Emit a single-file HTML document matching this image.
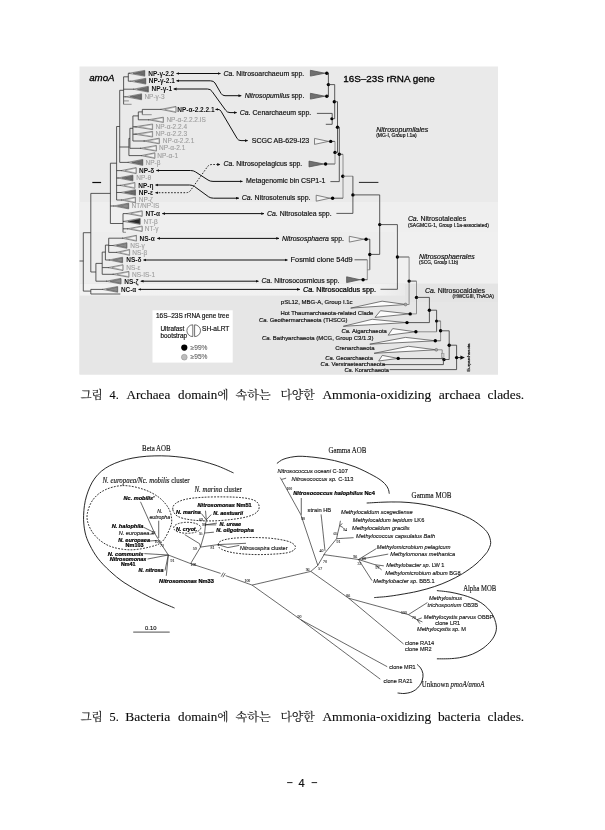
<!DOCTYPE html>
<html><head><meta charset="utf-8"><title>page 4</title>
<style>
html,body{margin:0;padding:0;background:#fff;}
body{width:605px;height:830px;overflow:hidden;font-family:"Liberation Sans",sans-serif;}
svg{display:block;position:absolute;left:0;top:0;will-change:transform;}
svg text{font-family:"Liberation Sans",sans-serif;fill:#111;stroke:#111;stroke-width:.18;}
.l{stroke:#2e2e2e;stroke-width:.78;fill:none;}
.lg{stroke:#777;stroke-width:.8;fill:none;}
.a{stroke:#111;stroke-width:1;fill:none;}
.ad{stroke:#111;stroke-width:.9;fill:none;stroke-dasharray:1.6 1.5;}
.t{stroke:#444;stroke-width:.6;}
.F2 text{stroke-width:.13;}
.b{font-weight:bold;stroke-width:0 !important;}
.i{font-style:italic;}
.bi{font-weight:bold;font-style:italic;stroke-width:.22 !important;fill:#000 !important;stroke:#000 !important;}
.g{fill:#9c9c9c !important;stroke:#9c9c9c !important;stroke-width:.1 !important;}
.s{font-family:"Liberation Serif",serif !important;}
.cp{font-family:"Liberation Serif",serif !important;stroke-width:.12 !important;fill:#0a0a0a !important;}
.ck{font-family:"Liberation Serif","Noto Serif CJK SC","Noto Sans CJK KR",serif !important;stroke-width:.12 !important;fill:#111 !important;}
.b2{font-weight:bold;stroke-width:.22 !important;fill:#000 !important;stroke:#000 !important;}
.si{font-family:"Liberation Serif",serif !important;font-style:italic;}
.f2{stroke:#222;stroke-width:.68;fill:none;}
.f2a{stroke:#111;stroke-width:.9;fill:none;}
.f2d{stroke:#111;stroke-width:.85;fill:none;stroke-dasharray:1.8 1.3;}
</style></head><body>
<svg width="605" height="830" viewBox="0 0 605 830">
<defs><filter id="soft" x="0" y="0" width="605" height="830" filterUnits="userSpaceOnUse"><feGaussianBlur stdDeviation="0.33"/></filter></defs>
<g filter="url(#soft)">
<defs><linearGradient id="gd" x1="0" x2="1"><stop offset="0" stop-color="#f4f4f4"/><stop offset=".3" stop-color="#8a8a8a"/><stop offset="1" stop-color="#4a4a4a"/></linearGradient><linearGradient id="gl" x1="0" x2="1"><stop offset="0" stop-color="#fafafa"/><stop offset=".45" stop-color="#f0f0f0"/><stop offset="1" stop-color="#c4c4c4"/></linearGradient><linearGradient id="gm" x1="0" x2="1"><stop offset="0" stop-color="#f6f6f6"/><stop offset=".35" stop-color="#aaa"/><stop offset="1" stop-color="#5c5c5c"/></linearGradient><linearGradient id="gk" x1="0" x2="1"><stop offset="0" stop-color="#ddd"/><stop offset=".35" stop-color="#444"/><stop offset="1" stop-color="#1a1a1a"/></linearGradient><marker id="ah" viewBox="0 0 6 6" refX="5.2" refY="3" markerWidth="3.2" markerHeight="3.2" orient="auto-start-reverse" markerUnits="userSpaceOnUse"><path d="M0,0.4 L6,3 L0,5.6 Z" fill="#111"/></marker><linearGradient id="gband" x1="0" x2="1"><stop offset="0" stop-color="#f2f2f2"/><stop offset=".88" stop-color="#f1f1f1"/><stop offset="1" stop-color="#e5e5e5"/></linearGradient></defs>
<rect x="79.5" y="66.5" width="418.5" height="308" fill="#eaeaea"/>
<rect x="79.5" y="202" width="418.5" height="30" fill="#efefef"/>
<rect x="79.5" y="232" width="418.5" height="52" fill="#ededed"/>
<rect x="395" y="232" width="103" height="52" fill="#f0f0f0"/>
<rect x="79.5" y="283.5" width="418.5" height="91" fill="#e6e6e6"/>
<rect x="79.5" y="283.8" width="340" height="11.8" fill="url(#gband)"/>
<rect x="405" y="284" width="93" height="18" fill="#e4e4e4"/>
<text x="89.2" y="80.5" font-size="9.8" class="i" textLength="25.4" lengthAdjust="spacingAndGlyphs" style="fill:#000;stroke:#000;stroke-width:.3">amoA</text>
<line class="l" x1="79.5" y1="261.0" x2="83.3" y2="261.0"/>
<line class="l" x1="83.3" y1="232.7" x2="83.3" y2="291.1"/>
<line class="l" x1="83.3" y1="232.7" x2="90.8" y2="232.7"/>
<line class="l" x1="90.8" y1="193.4" x2="90.8" y2="272.0"/>
<line class="l" x1="90.8" y1="193.4" x2="110.4" y2="193.4"/>
<line class="l" x1="110.4" y1="163.2" x2="110.4" y2="223.5"/>
<line class="l" x1="110.4" y1="163.2" x2="116.6" y2="163.2"/>
<line class="l" x1="116.6" y1="126.5" x2="116.6" y2="200.0"/>
<line class="l" x1="116.6" y1="126.5" x2="119.7" y2="126.5"/>
<line class="l" x1="119.7" y1="90.3" x2="119.7" y2="162.4"/>
<line class="l" x1="119.7" y1="90.3" x2="123.6" y2="90.3"/>
<line class="l" x1="123.6" y1="76.8" x2="123.6" y2="104.3"/>
<line class="l" x1="123.6" y1="76.8" x2="128.3" y2="76.8"/>
<line class="l" x1="128.3" y1="73.3" x2="128.3" y2="81.2"/>
<line class="l" x1="128.3" y1="73.3" x2="130.0" y2="73.3"/>
<path d="M128.6,73.3 L144.8,70.4 L144.8,76.2 Z" fill="#e4e4e4" stroke="#444" stroke-width=".55" stroke-linejoin="miter"/>
<path d="M133.0,73.3 L144.5,71.0 L144.5,75.6 Z" fill="#6c6c6c" stroke="#3a3a3a" stroke-width=".45" stroke-linejoin="miter"/>
<line class="l" x1="128.3" y1="81.2" x2="131.0" y2="81.2"/>
<path d="M130.6,81.2 L145.8,78.3 L145.8,84.1 Z" fill="#e4e4e4" stroke="#444" stroke-width=".55" stroke-linejoin="miter"/>
<path d="M134.7,81.2 L145.5,78.9 L145.5,83.5 Z" fill="#6c6c6c" stroke="#3a3a3a" stroke-width=".45" stroke-linejoin="miter"/>
<line class="l" x1="123.6" y1="89.2" x2="134.0" y2="89.2"/>
<path d="M133.2,89.2 L148.4,86.3 L148.4,92.1 Z" fill="#e4e4e4" stroke="#444" stroke-width=".55" stroke-linejoin="miter"/>
<path d="M137.3,89.2 L148.1,86.9 L148.1,91.5 Z" fill="#6c6c6c" stroke="#3a3a3a" stroke-width=".45" stroke-linejoin="miter"/>
<line class="l" x1="123.6" y1="96.8" x2="126.0" y2="96.8"/>
<path d="M125.6,96.8 L141.6,93.8 L141.6,99.8 Z" fill="#e4e4e4" stroke="#444" stroke-width=".55" stroke-linejoin="miter"/>
<path d="M129.9,96.8 L141.3,94.4 L141.3,99.2 Z" fill="#6c6c6c" stroke="#3a3a3a" stroke-width=".45" stroke-linejoin="miter"/>
<line class="lg" x1="123.6" y1="100.9" x2="128.9" y2="100.9"/>
<line class="lg" x1="123.6" y1="104.3" x2="131.6" y2="104.3"/>
<line class="l" x1="119.7" y1="147.0" x2="128.9" y2="147.0"/>
<line class="l" x1="128.9" y1="138.4" x2="128.9" y2="155.6"/>
<line class="l" x1="128.9" y1="138.4" x2="129.9" y2="138.4"/>
<line class="l" x1="129.9" y1="128.3" x2="129.9" y2="148.3"/>
<line class="l" x1="129.9" y1="128.3" x2="132.9" y2="128.3"/>
<line class="l" x1="132.9" y1="115.9" x2="132.9" y2="141.0"/>
<line class="l" x1="132.9" y1="115.9" x2="138.3" y2="115.9"/>
<line class="l" x1="138.3" y1="111.9" x2="138.3" y2="119.8"/>
<line class="l" x1="138.3" y1="111.9" x2="142.3" y2="111.9"/>
<line class="l" x1="142.3" y1="109.4" x2="142.3" y2="114.7"/>
<line class="l" x1="142.3" y1="109.4" x2="161.5" y2="109.4"/>
<path d="M160.5,109.4 L176.0,106.4 L176.0,112.4 Z" fill="#e4e4e4" stroke="#444" stroke-width=".55" stroke-linejoin="miter"/>
<path d="M164.7,109.4 L175.7,107.0 L175.7,111.8 Z" fill="#f3f3f3" stroke="#666" stroke-width=".45" stroke-linejoin="miter"/>
<line class="lg" x1="142.3" y1="114.7" x2="151.7" y2="114.7"/>
<line class="l" x1="138.3" y1="119.8" x2="149.0" y2="119.8"/>
<path d="M148.2,119.8 L163.4,117.2 L163.4,122.4 Z" fill="#e4e4e4" stroke="#444" stroke-width=".55" stroke-linejoin="miter"/>
<path d="M152.3,119.8 L163.1,117.7 L163.1,121.9 Z" fill="#f3f3f3" stroke="#666" stroke-width=".45" stroke-linejoin="miter"/>
<line class="l" x1="132.9" y1="126.8" x2="137.0" y2="126.8"/>
<path d="M134.5,126.8 L152.6,124.0 L152.6,129.6 Z" fill="#e4e4e4" stroke="#444" stroke-width=".55" stroke-linejoin="miter"/>
<path d="M139.4,126.8 L152.3,124.6 L152.3,129.0 Z" fill="#f3f3f3" stroke="#666" stroke-width=".45" stroke-linejoin="miter"/>
<line class="l" x1="132.9" y1="134.2" x2="137.0" y2="134.2"/>
<path d="M134.5,134.2 L152.6,131.4 L152.6,137.0 Z" fill="#e4e4e4" stroke="#444" stroke-width=".55" stroke-linejoin="miter"/>
<path d="M139.4,134.2 L152.3,132.0 L152.3,136.4 Z" fill="#f3f3f3" stroke="#666" stroke-width=".45" stroke-linejoin="miter"/>
<line class="l" x1="132.9" y1="141.0" x2="145.0" y2="141.0"/>
<path d="M143.5,141.0 L159.3,138.2 L159.3,143.8 Z" fill="#e4e4e4" stroke="#444" stroke-width=".55" stroke-linejoin="miter"/>
<path d="M147.8,141.0 L159.0,138.8 L159.0,143.2 Z" fill="#f3f3f3" stroke="#666" stroke-width=".45" stroke-linejoin="miter"/>
<line class="l" x1="129.9" y1="148.3" x2="141.0" y2="148.3"/>
<path d="M140.0,148.3 L156.4,145.5 L156.4,151.1 Z" fill="#e4e4e4" stroke="#444" stroke-width=".55" stroke-linejoin="miter"/>
<path d="M144.4,148.3 L156.1,146.1 L156.1,150.5 Z" fill="#f3f3f3" stroke="#666" stroke-width=".45" stroke-linejoin="miter"/>
<line class="l" x1="128.9" y1="155.6" x2="142.0" y2="155.6"/>
<path d="M141.0,155.6 L154.9,152.8 L154.9,158.4 Z" fill="#e4e4e4" stroke="#444" stroke-width=".55" stroke-linejoin="miter"/>
<path d="M144.8,155.6 L154.6,153.4 L154.6,157.8 Z" fill="#f3f3f3" stroke="#666" stroke-width=".45" stroke-linejoin="miter"/>
<line class="l" x1="119.7" y1="162.4" x2="129.0" y2="162.4"/>
<path d="M127.6,162.4 L142.8,159.4 L142.8,165.4 Z" fill="#e4e4e4" stroke="#444" stroke-width=".55" stroke-linejoin="miter"/>
<path d="M131.7,162.4 L142.5,160.0 L142.5,164.8 Z" fill="#6c6c6c" stroke="#3a3a3a" stroke-width=".45" stroke-linejoin="miter"/>
<line class="l" x1="116.6" y1="170.6" x2="122.0" y2="170.6"/>
<path d="M121.0,170.6 L136.2,167.6 L136.2,173.6 Z" fill="#e4e4e4" stroke="#444" stroke-width=".55" stroke-linejoin="miter"/>
<path d="M125.1,170.6 L135.9,168.2 L135.9,173.0 Z" fill="#f3f3f3" stroke="#666" stroke-width=".45" stroke-linejoin="miter"/>
<line class="l" x1="116.6" y1="178.0" x2="118.5" y2="178.0"/>
<path d="M117.6,178.0 L132.9,175.1 L132.9,180.9 Z" fill="#e4e4e4" stroke="#444" stroke-width=".55" stroke-linejoin="miter"/>
<path d="M121.7,178.0 L132.6,175.7 L132.6,180.3 Z" fill="#6c6c6c" stroke="#3a3a3a" stroke-width=".45" stroke-linejoin="miter"/>
<line class="l" x1="116.6" y1="185.4" x2="121.0" y2="185.4"/>
<path d="M120.0,185.4 L134.9,182.5 L134.9,188.3 Z" fill="#e4e4e4" stroke="#444" stroke-width=".55" stroke-linejoin="miter"/>
<path d="M124.0,185.4 L134.6,183.1 L134.6,187.7 Z" fill="#f3f3f3" stroke="#666" stroke-width=".45" stroke-linejoin="miter"/>
<line class="l" x1="116.6" y1="192.5" x2="121.5" y2="192.5"/>
<path d="M120.6,192.5 L135.5,189.7 L135.5,195.3 Z" fill="#e4e4e4" stroke="#444" stroke-width=".55" stroke-linejoin="miter"/>
<path d="M124.6,192.5 L135.2,190.3 L135.2,194.7 Z" fill="#6c6c6c" stroke="#3a3a3a" stroke-width=".45" stroke-linejoin="miter"/>
<line class="l" x1="116.6" y1="200.0" x2="122.0" y2="200.0"/>
<path d="M121.2,200.0 L135.5,197.2 L135.5,202.8 Z" fill="#e4e4e4" stroke="#444" stroke-width=".55" stroke-linejoin="miter"/>
<path d="M125.1,200.0 L135.2,197.8 L135.2,202.2 Z" fill="#f3f3f3" stroke="#666" stroke-width=".45" stroke-linejoin="miter"/>
<line class="l" x1="110.4" y1="206.0" x2="114.0" y2="206.0"/>
<path d="M113.4,206.0 L128.7,203.1 L128.7,208.9 Z" fill="#e4e4e4" stroke="#444" stroke-width=".55" stroke-linejoin="miter"/>
<path d="M117.5,206.0 L128.4,203.7 L128.4,208.3 Z" fill="#8c8c8c" stroke="#3a3a3a" stroke-width=".45" stroke-linejoin="miter"/>
<line class="l" x1="110.4" y1="223.5" x2="123.0" y2="223.5"/>
<line class="l" x1="123.0" y1="213.6" x2="123.0" y2="232.3"/>
<line class="l" x1="123.0" y1="213.6" x2="127.5" y2="213.6"/>
<path d="M126.6,213.6 L142.2,210.8 L142.2,216.4 Z" fill="#e4e4e4" stroke="#444" stroke-width=".55" stroke-linejoin="miter"/>
<path d="M130.8,213.6 L141.9,211.4 L141.9,215.8 Z" fill="#f3f3f3" stroke="#666" stroke-width=".45" stroke-linejoin="miter"/>
<line class="l" x1="123.0" y1="221.4" x2="124.0" y2="221.4"/>
<path d="M123.4,221.4 L140.2,218.4 L140.2,224.4 Z" fill="#e4e4e4" stroke="#444" stroke-width=".55" stroke-linejoin="miter"/>
<path d="M127.9,221.4 L139.9,219.0 L139.9,223.8 Z" fill="#2a2a2a" stroke="#3a3a3a" stroke-width=".45" stroke-linejoin="miter"/>
<line class="l" x1="123.0" y1="228.8" x2="128.0" y2="228.8"/>
<path d="M127.2,228.8 L142.2,226.1 L142.2,231.5 Z" fill="#e4e4e4" stroke="#444" stroke-width=".55" stroke-linejoin="miter"/>
<path d="M131.2,228.8 L141.9,226.6 L141.9,231.0 Z" fill="#f3f3f3" stroke="#666" stroke-width=".45" stroke-linejoin="miter"/>
<line class="lg" x1="123.0" y1="232.3" x2="126.0" y2="232.3"/>
<line class="l" x1="90.8" y1="272.0" x2="95.9" y2="272.0"/>
<line class="l" x1="95.9" y1="263.4" x2="95.9" y2="281.2"/>
<line class="l" x1="95.9" y1="263.4" x2="102.2" y2="263.4"/>
<line class="l" x1="102.2" y1="252.1" x2="102.2" y2="274.3"/>
<line class="l" x1="102.2" y1="252.1" x2="105.4" y2="252.1"/>
<line class="l" x1="105.4" y1="245.1" x2="105.4" y2="260.0"/>
<line class="l" x1="105.4" y1="245.1" x2="108.7" y2="245.1"/>
<line class="l" x1="108.7" y1="238.2" x2="108.7" y2="252.4"/>
<line class="l" x1="108.7" y1="238.2" x2="123.0" y2="238.2"/>
<path d="M122.0,238.2 L136.5,235.3 L136.5,241.1 Z" fill="#e4e4e4" stroke="#444" stroke-width=".55" stroke-linejoin="miter"/>
<path d="M125.9,238.2 L136.2,235.9 L136.2,240.5 Z" fill="#f3f3f3" stroke="#666" stroke-width=".45" stroke-linejoin="miter"/>
<line class="l" x1="108.7" y1="245.5" x2="113.5" y2="245.5"/>
<path d="M112.6,245.5 L126.9,242.7 L126.9,248.3 Z" fill="#e4e4e4" stroke="#444" stroke-width=".55" stroke-linejoin="miter"/>
<path d="M116.5,245.5 L126.6,243.3 L126.6,247.7 Z" fill="#8c8c8c" stroke="#3a3a3a" stroke-width=".45" stroke-linejoin="miter"/>
<line class="l" x1="108.7" y1="252.4" x2="117.0" y2="252.4"/>
<path d="M116.0,252.4 L129.6,249.5 L129.6,255.3 Z" fill="#e4e4e4" stroke="#444" stroke-width=".55" stroke-linejoin="miter"/>
<path d="M119.7,252.4 L129.3,250.1 L129.3,254.7 Z" fill="#f3f3f3" stroke="#666" stroke-width=".45" stroke-linejoin="miter"/>
<line class="l" x1="105.4" y1="260.0" x2="110.0" y2="260.0"/>
<path d="M108.8,260.0 L122.6,257.2 L122.6,262.8 Z" fill="#e4e4e4" stroke="#444" stroke-width=".55" stroke-linejoin="miter"/>
<path d="M112.5,260.0 L122.3,257.8 L122.3,262.2 Z" fill="#8c8c8c" stroke="#3a3a3a" stroke-width=".45" stroke-linejoin="miter"/>
<line class="l" x1="102.2" y1="267.6" x2="109.0" y2="267.6"/>
<path d="M108.0,267.6 L123.0,264.7 L123.0,270.5 Z" fill="#e4e4e4" stroke="#444" stroke-width=".55" stroke-linejoin="miter"/>
<path d="M112.0,267.6 L122.7,265.3 L122.7,269.9 Z" fill="#f3f3f3" stroke="#666" stroke-width=".45" stroke-linejoin="miter"/>
<line class="l" x1="102.2" y1="274.3" x2="114.0" y2="274.3"/>
<path d="M112.6,274.3 L128.9,271.4 L128.9,277.2 Z" fill="#e4e4e4" stroke="#444" stroke-width=".55" stroke-linejoin="miter"/>
<path d="M117.0,274.3 L128.6,272.0 L128.6,276.6 Z" fill="#f3f3f3" stroke="#666" stroke-width=".45" stroke-linejoin="miter"/>
<line class="l" x1="95.9" y1="281.2" x2="107.0" y2="281.2"/>
<path d="M106.0,281.2 L121.0,278.4 L121.0,284.0 Z" fill="#e4e4e4" stroke="#444" stroke-width=".55" stroke-linejoin="miter"/>
<path d="M110.0,281.2 L120.7,279.0 L120.7,283.4 Z" fill="#8c8c8c" stroke="#3a3a3a" stroke-width=".45" stroke-linejoin="miter"/>
<line class="l" x1="83.3" y1="291.1" x2="90.8" y2="291.1"/>
<line class="l" x1="90.8" y1="289.4" x2="90.8" y2="294.0"/>
<line class="l" x1="90.8" y1="289.4" x2="103.0" y2="289.4"/>
<path d="M102.2,289.4 L117.7,286.5 L117.7,292.3 Z" fill="#e4e4e4" stroke="#444" stroke-width=".55" stroke-linejoin="miter"/>
<path d="M106.4,289.4 L117.4,287.1 L117.4,291.7 Z" fill="#8c8c8c" stroke="#3a3a3a" stroke-width=".45" stroke-linejoin="miter"/>
<line class="l" x1="90.8" y1="294.0" x2="120.3" y2="294.0"/>
<line x1="92.3" y1="182.5" x2="101.1" y2="182.5" stroke="#111" stroke-width="1.2"/>
<text x="148.2" y="75.7" font-size="6.5" class="b">NP-γ-2.2</text>
<text x="148.8" y="83.1" font-size="6.5" class="b">NP-γ-2.1</text>
<text x="151.5" y="91.1" font-size="6.5" class="b">NP-γ-1</text>
<text x="144.4" y="98.6" font-size="6.5" class="g">NP-γ-3</text>
<text x="177.3" y="111.6" font-size="6.5" class="b">NP-α-2.2.2.1</text>
<text x="166.4" y="122.0" font-size="6.5" class="g">NP-α-2.2.2.IS</text>
<text x="155.5" y="128.8" font-size="6.5" class="g">NP-α-2.2.4</text>
<text x="155.5" y="136.3" font-size="6.5" class="g">NP-α-2.2.3</text>
<text x="162.7" y="143.0" font-size="6.5" class="g">NP-α-2.2.1</text>
<text x="159.1" y="150.4" font-size="6.5" class="g">NP-α-2.1</text>
<text x="157.3" y="157.7" font-size="6.5" class="g">NP-α-1</text>
<text x="145.5" y="164.7" font-size="6.5" class="g">NP-β</text>
<text x="139.1" y="172.9" font-size="6.5" class="b">NP-δ</text>
<text x="136.2" y="180.2" font-size="6.5" class="g">NP-θ</text>
<text x="138.2" y="187.6" font-size="6.5" class="b">NP-η</text>
<text x="138.8" y="194.8" font-size="6.5" class="b">NP-ε</text>
<text x="138.8" y="202.2" font-size="6.5" class="g">NP-ζ</text>
<text x="131.6" y="208.3" font-size="6.5" class="g">NT/NP-IS</text>
<text x="145.5" y="215.9" font-size="6.5" class="b">NT-α</text>
<text x="143.5" y="223.6" font-size="6.5" class="g">NT-β</text>
<text x="144.8" y="231.0" font-size="6.5" class="g">NT-γ</text>
<text x="139.5" y="240.5" font-size="6.5" class="b">NS-α</text>
<text x="130.2" y="247.8" font-size="6.5" class="g">NS-γ</text>
<text x="132.2" y="254.7" font-size="6.5" class="g">NS-β</text>
<text x="126.3" y="262.3" font-size="6.5" class="b">NS-δ</text>
<text x="126.3" y="269.9" font-size="6.5" class="g">NS-ε</text>
<text x="132.0" y="276.6" font-size="6.5" class="g">NS-IS-1</text>
<text x="124.3" y="283.5" font-size="6.5" class="b">NS-ζ</text>
<text x="121.0" y="291.9" font-size="7.1" class="b" textLength="15.3" lengthAdjust="spacingAndGlyphs">NC-α</text>
<path class="a" d="M176.6,73.5 H220.4" marker-start="url(#ah)" marker-end="url(#ah)"/>
<path class="a" d="M176.6,80.8 H210.5 Q213.5,80.8 215,83 L221,93.4 Q222.3,95.7 225,95.7 H241.2" marker-start="url(#ah)" marker-end="url(#ah)"/>
<path class="a" d="M173.8,89 H207.5 Q210.5,89 212,91.4 L225.6,110.2 Q227.2,112.6 230,112.6 H236.6" marker-start="url(#ah)" marker-end="url(#ah)"/>
<path class="a" d="M215.6,109.4 H218 Q220,109.4 221,111.2 L237.2,138.6 Q238.4,140.6 241,140.6 H247.6" marker-start="url(#ah)" marker-end="url(#ah)"/>
<path class="a" d="M156.4,170.5 H190.5 Q193.5,170.5 195.5,171.9 L208,180 Q210,181.4 213,181.4 H242.4" marker-start="url(#ah)" marker-end="url(#ah)"/>
<path class="a" d="M155.6,185 H189.5 Q192.5,185 194.5,186.5 L208.6,196.8 Q210.6,198.2 213.6,198.2 H238.8" marker-start="url(#ah)" marker-end="url(#ah)"/>
<path class="ad" d="M155.6,192.7 H186 Q189,192.7 190.6,190.4 L207.4,166.8 Q209,164.5 212,164.5 H220" marker-start="url(#ah)" marker-end="url(#ah)"/>
<path class="a" d="M162.4,213.6 H264" marker-start="url(#ah)" marker-end="url(#ah)"/>
<path class="a" d="M157.4,238.4 H279" marker-start="url(#ah)" marker-end="url(#ah)"/>
<path class="a" d="M143.6,260 H287.4" marker-start="url(#ah)" marker-end="url(#ah)"/>
<path class="a" d="M140.8,281.2 H258.4" marker-start="url(#ah)" marker-end="url(#ah)"/>
<path class="a" d="M138.6,289.4 H299.8" marker-start="url(#ah)" marker-end="url(#ah)"/>
<text x="223.6" y="75.5" font-size="6.9" textLength="80.7" lengthAdjust="spacingAndGlyphs"><tspan class="i">Ca.</tspan> Nitrosoarchaeum spp.</text>
<text x="244.7" y="97.8" font-size="6.9" textLength="59.6" lengthAdjust="spacingAndGlyphs"><tspan class="i">Nitrosopumilus</tspan> spp.</text>
<text x="239.8" y="115.4" font-size="6.9" textLength="71.4" lengthAdjust="spacingAndGlyphs"><tspan class="i">Ca.</tspan> Cenarchaeum spp.</text>
<text x="251.7" y="143.2" font-size="6.9" textLength="57.6" lengthAdjust="spacingAndGlyphs">SCGC AB-629-I23</text>
<text x="223.6" y="165.8" font-size="6.9" textLength="78.7" lengthAdjust="spacingAndGlyphs"><tspan class="i">Ca.</tspan> Nitrosopelagicus spp.</text>
<text x="246.0" y="183.3" font-size="6.9" textLength="79.4" lengthAdjust="spacingAndGlyphs">Metagenomic bin CSP1-1</text>
<text x="241.8" y="199.9" font-size="6.9" textLength="68.7" lengthAdjust="spacingAndGlyphs"><tspan class="i">Ca.</tspan> Nitrosotenuis spp.</text>
<text x="267.1" y="215.6" font-size="6.9" textLength="64.5" lengthAdjust="spacingAndGlyphs"><tspan class="i">Ca.</tspan> Nitrosotalea spp.</text>
<text x="282.0" y="241.0" font-size="6.9" textLength="62.0" lengthAdjust="spacingAndGlyphs"><tspan class="i">Nitrososphaera</tspan> spp.</text>
<text x="290.6" y="262.2" font-size="7.1" textLength="62.1" lengthAdjust="spacingAndGlyphs">Fosmid clone 54d9</text>
<text x="261.6" y="282.8" font-size="6.9" textLength="77.9" lengthAdjust="spacingAndGlyphs"><tspan class="i">Ca.</tspan> Nitrosocosmicus spp.</text>
<text x="302.9" y="291.8" font-size="7.3" textLength="73.1" lengthAdjust="spacingAndGlyphs" style="stroke-width:.24;fill:#000;stroke:#000"><tspan class="i">Ca.</tspan> Nitrosocaldus spp.</text>
<text x="343.2" y="81.9" font-size="9.9" textLength="91.5" lengthAdjust="spacingAndGlyphs" style="fill:#000;stroke:#000;stroke-width:.3">16S–23S rRNA gene</text>
<path d="M324.8,73.2 L310.4,70.3 L310.4,76.1 Z" fill="#707070" stroke="#555" stroke-width=".8"/>
<line class="l" x1="324.8" y1="73.2" x2="326.8" y2="73.2"/>
<circle cx="326.8" cy="73.2" r="1.7" fill="#000"/>
<path d="M324.8,96.2 L310.4,93.3 L310.4,99.1 Z" fill="#707070" stroke="#555" stroke-width=".8"/>
<line class="l" x1="324.8" y1="96.2" x2="326.8" y2="96.2"/>
<circle cx="326.8" cy="96.2" r="1.7" fill="#000"/>
<line class="l" x1="326.8" y1="73.2" x2="328.4" y2="73.2"/>
<line class="l" x1="326.8" y1="96.2" x2="328.4" y2="96.2"/>
<line class="l" x1="328.4" y1="73.2" x2="328.4" y2="96.2"/>
<circle cx="328.4" cy="84.6" r="1.7" fill="#000"/>
<line class="l" x1="328.4" y1="84.6" x2="334.7" y2="84.6"/>
<line class="l" x1="334.7" y1="84.6" x2="334.7" y2="118.7"/>
<circle cx="334.3" cy="101.7" r="1.7" fill="#000"/>
<line class="l" x1="316.9" y1="113.4" x2="332.2" y2="113.4"/>
<line class="l" x1="332.2" y1="113.4" x2="332.2" y2="124.3"/>
<line class="l" x1="325.8" y1="124.3" x2="332.2" y2="124.3"/>
<circle cx="331.8" cy="118.7" r="1.5" fill="#000"/>
<line class="l" x1="332.2" y1="118.7" x2="334.7" y2="118.7"/>
<line class="l" x1="334.7" y1="101.7" x2="337.5" y2="101.7"/>
<line class="l" x1="337.5" y1="101.7" x2="337.5" y2="152.4"/>
<circle cx="337.5" cy="127.3" r="1.7" fill="#000"/>
<path d="M328.4,141.4 L314.5,138.4 L314.5,144.4 Z" fill="#f2f2f2" stroke="#666" stroke-width=".8"/>
<line class="l" x1="328.4" y1="141.4" x2="335.0" y2="141.4"/>
<circle cx="330.7" cy="141.4" r="1.7" fill="#000"/>
<path d="M323.8,164.0 L309.0,161.1 L309.0,166.9 Z" fill="#707070" stroke="#555" stroke-width=".8"/>
<line class="l" x1="323.8" y1="164.0" x2="335.0" y2="164.0"/>
<circle cx="325.6" cy="164.0" r="1.7" fill="#000"/>
<line class="lg" x1="335.0" y1="141.4" x2="335.0" y2="164.0"/>
<circle cx="335.0" cy="152.4" r="1.7" fill="#000"/>
<line class="l" x1="335.0" y1="152.4" x2="337.5" y2="152.4"/>
<line class="l" x1="337.5" y1="127.3" x2="339.3" y2="127.3"/>
<line class="l" x1="339.3" y1="127.3" x2="339.3" y2="181.6"/>
<circle cx="339.3" cy="154.3" r="1.7" fill="#000"/>
<line class="l" x1="330.4" y1="181.6" x2="339.3" y2="181.6"/>
<line class="l" x1="339.3" y1="154.3" x2="343.0" y2="154.3"/>
<line class="lg" x1="343.0" y1="154.3" x2="343.0" y2="198.2"/>
<circle cx="342.8" cy="176.2" r="1.7" fill="#000"/>
<path d="M329.8,198.2 L316.2,195.2 L316.2,201.2 Z" fill="#f2f2f2" stroke="#666" stroke-width=".8"/>
<line class="l" x1="329.8" y1="198.2" x2="343.0" y2="198.2"/>
<circle cx="332.6" cy="198.2" r="1.7" fill="#000"/>
<line class="lg" x1="343.0" y1="176.2" x2="352.9" y2="176.2"/>
<line class="l" x1="352.9" y1="176.2" x2="352.9" y2="213.4"/>
<circle cx="352.9" cy="194.9" r="1.7" fill="#000"/>
<line class="l" x1="336.4" y1="213.4" x2="352.9" y2="213.4"/>
<line class="l" x1="352.9" y1="194.9" x2="379.7" y2="194.9"/>
<line class="l" x1="379.7" y1="194.9" x2="379.7" y2="254.4"/>
<circle cx="379.7" cy="224.6" r="1.7" fill="#000"/>
<path d="M363.6,239.2 L349.3,236.3 L349.3,242.1 Z" fill="#f2f2f2" stroke="#666" stroke-width=".8"/>
<line class="l" x1="363.6" y1="239.2" x2="369.8" y2="239.2"/>
<circle cx="366.1" cy="239.2" r="1.7" fill="#000"/>
<line class="l" x1="369.8" y1="239.2" x2="369.8" y2="269.8"/>
<circle cx="369.8" cy="254.5" r="1.7" fill="#000"/>
<line class="l" x1="369.8" y1="254.4" x2="379.7" y2="254.4"/>
<line class="l" x1="354.5" y1="259.8" x2="367.3" y2="259.8"/>
<line class="lg" x1="367.3" y1="259.8" x2="367.3" y2="279.7"/>
<line class="lg" x1="367.3" y1="269.8" x2="369.8" y2="269.8"/>
<path d="M359.8,279.7 L346.6,276.8 L346.6,282.6 Z" fill="#707070" stroke="#555" stroke-width=".8"/>
<line class="l" x1="359.8" y1="279.7" x2="367.3" y2="279.7"/>
<circle cx="363.1" cy="279.7" r="1.7" fill="#000"/>
<line class="l" x1="379.7" y1="224.6" x2="397.4" y2="224.6"/>
<line class="l" x1="397.4" y1="224.6" x2="397.4" y2="289.3"/>
<circle cx="397.4" cy="257.0" r="1.7" fill="#000"/>
<line class="l" x1="380.5" y1="289.3" x2="397.4" y2="289.3"/>
<line class="l" x1="397.4" y1="257.0" x2="409.1" y2="257.0"/>
<line class="lg" x1="409.1" y1="257.0" x2="409.1" y2="304.5"/>
<circle cx="409.1" cy="281.1" r="1.7" fill="#000"/>
<line class="l" x1="409.1" y1="281.1" x2="416.5" y2="281.1"/>
<line class="lg" x1="416.5" y1="281.1" x2="416.5" y2="313.9"/>
<circle cx="416.5" cy="297.4" r="1.7" fill="#000"/>
<line class="l" x1="416.5" y1="297.4" x2="429.4" y2="297.4"/>
<line class="l" x1="429.4" y1="297.4" x2="429.4" y2="322.6"/>
<circle cx="429.4" cy="310.2" r="1.7" fill="#000"/>
<line class="l" x1="429.4" y1="310.2" x2="436.6" y2="310.2"/>
<line class="l" x1="436.6" y1="310.2" x2="436.6" y2="331.8"/>
<circle cx="436.5" cy="321.0" r="1.5" fill="#000"/>
<line class="l" x1="436.6" y1="321.0" x2="440.6" y2="321.0"/>
<line class="lg" x1="440.6" y1="321.0" x2="440.6" y2="340.8"/>
<circle cx="440.6" cy="330.8" r="1.7" fill="#000"/>
<line class="l" x1="440.6" y1="330.8" x2="449.2" y2="330.8"/>
<line class="l" x1="449.2" y1="330.8" x2="449.2" y2="359.5"/>
<circle cx="449.2" cy="345.2" r="1.7" fill="#000"/>
<line class="l" x1="449.2" y1="345.2" x2="456.6" y2="345.2"/>
<line class="l" x1="456.6" y1="345.2" x2="456.6" y2="369.6"/>
<circle cx="456.6" cy="357.6" r="1.7" fill="#000"/>
<path class="a" d="M456.6,357.6 H461" style="stroke-width:.9"/><path d="M460.4,355.5 L464.9,357.6 L460.4,359.7 Z" fill="#111"/>
<path d="M406.1,304.5 L382.1,301.2 L350.7,308.1 Z" fill="#fcfcfc" stroke="#444" stroke-width=".7" stroke-linejoin="round"/>
<line class="lg" x1="406.0" y1="304.5" x2="409.1" y2="304.5"/>
<circle cx="405.6" cy="304.5" r="1.4" fill="#a8a8a8" stroke="#666" stroke-width=".6"/>
<path d="M409.4,313.9 L380.5,310.7 L375.0,317.4 Z" fill="#fcfcfc" stroke="#444" stroke-width=".7" stroke-linejoin="round"/>
<line class="lg" x1="409.4" y1="313.9" x2="416.5" y2="313.9"/>
<circle cx="410.2" cy="313.9" r="1.7" fill="#000"/>
<path d="M406.1,322.6 L372.2,319.3 L343.3,326.3 Z" fill="#fcfcfc" stroke="#444" stroke-width=".7" stroke-linejoin="round"/>
<line class="l" x1="406.1" y1="322.6" x2="429.4" y2="322.6"/>
<circle cx="407.0" cy="322.6" r="1.7" fill="#000"/>
<path d="M415.2,331.8 L392.7,328.6 L388.2,335.2 Z" fill="#fcfcfc" stroke="#444" stroke-width=".7" stroke-linejoin="round"/>
<line class="lg" x1="415.2" y1="331.8" x2="436.6" y2="331.8"/>
<circle cx="415.9" cy="331.8" r="1.7" fill="#000"/>
<path d="M435.4,340.8 L405.5,337.4 L369.8,344.2 Z" fill="#fcfcfc" stroke="#444" stroke-width=".7" stroke-linejoin="round"/>
<line class="l" x1="435.4" y1="340.8" x2="440.6" y2="340.8"/>
<circle cx="435.3" cy="340.8" r="1.7" fill="#000"/>
<path d="M436.0,349.8 L408.5,346.3 L374.1,353.3 Z" fill="#fcfcfc" stroke="#444" stroke-width=".7" stroke-linejoin="round"/>
<line class="lg" x1="436.0" y1="349.8" x2="442.2" y2="349.8"/>
<circle cx="436.3" cy="349.8" r="1.4" fill="#a8a8a8" stroke="#666" stroke-width=".6"/>
<line class="lg" x1="442.2" y1="349.8" x2="442.2" y2="358.5"/>
<rect x="441.4" y="353.6" width="2.6" height="3.6" fill="#ccc" stroke="#888" stroke-width=".5"/>
<path d="M398.0,358.4 L382.3,355.4 L378.7,361.0 Z" fill="#fcfcfc" stroke="#444" stroke-width=".7" stroke-linejoin="round"/>
<line class="l" x1="398.0" y1="358.6" x2="444.0" y2="358.6"/>
<circle cx="398.2" cy="358.4" r="1.7" fill="#000"/>
<circle cx="444.0" cy="359.6" r="1.7" fill="#000"/>
<line class="l" x1="444.0" y1="359.5" x2="449.2" y2="359.5"/>
<line class="l" x1="382.7" y1="364.6" x2="443.4" y2="364.6"/>
<line class="l" x1="443.4" y1="359.6" x2="443.4" y2="364.6"/>
<line class="l" x1="389.6" y1="369.6" x2="456.6" y2="369.6"/>
<text x="376.2" y="132.0" font-size="7.1" textLength="52.1" lengthAdjust="spacingAndGlyphs"><tspan class="i">Nitrosopumilales</tspan></text>
<text x="376.2" y="137.4" font-size="4.9" textLength="40.5" lengthAdjust="spacingAndGlyphs">(MG-I, Group I.1a)</text>
<text x="407.9" y="221.3" font-size="7.0" textLength="58.2" lengthAdjust="spacingAndGlyphs"><tspan class="i">Ca.</tspan> Nitrosotaleales</text>
<text x="407.9" y="226.9" font-size="4.9" textLength="81.0" lengthAdjust="spacingAndGlyphs">(SAGMCG-1, Group I.1a-associated)</text>
<text x="419.0" y="258.8" font-size="7.0" textLength="55.7" lengthAdjust="spacingAndGlyphs"><tspan class="i">Nitrososphaerales</tspan></text>
<text x="419.0" y="264.0" font-size="4.9" textLength="39.2" lengthAdjust="spacingAndGlyphs">(SCG, Group I.1b)</text>
<text x="425.1" y="292.7" font-size="7.1" textLength="60.0" lengthAdjust="spacingAndGlyphs"><tspan class="i">Ca.</tspan> Nitrosocaldales</text>
<text x="452.6" y="297.8" font-size="4.9" textLength="41.3" lengthAdjust="spacingAndGlyphs">(HWCGIII, ThAOA)</text>
<text transform="translate(469.6,371.6) rotate(-90)" font-size="4.4" textLength="28" lengthAdjust="spacingAndGlyphs">Euryarchaeota</text>
<text x="280.8" y="303.5" font-size="6.0" textLength="71.8" lengthAdjust="spacingAndGlyphs">pSL12, MBG-A, Group I.1c</text>
<text x="280.4" y="314.6" font-size="6.0" textLength="93.0" lengthAdjust="spacingAndGlyphs">Hot Thaumarchaeota-related Clade</text>
<text x="259.0" y="322.1" font-size="6.0" textLength="88.5" lengthAdjust="spacingAndGlyphs"><tspan class="i">Ca.</tspan> Geothermarchaeota (THSCG)</text>
<text x="341.5" y="332.9" font-size="6.0" textLength="45.4" lengthAdjust="spacingAndGlyphs"><tspan class="i">Ca.</tspan> Aigarchaeota</text>
<text x="261.9" y="340.3" font-size="6.0" textLength="111.5" lengthAdjust="spacingAndGlyphs"><tspan class="i">Ca.</tspan> Bathyarchaeota (MCG, Group C3/1.3)</text>
<text x="335.2" y="350.3" font-size="6.0" textLength="39.4" lengthAdjust="spacingAndGlyphs">Crenarchaeota</text>
<text x="325.3" y="359.5" font-size="6.0" textLength="47.7" lengthAdjust="spacingAndGlyphs"><tspan class="i">Ca.</tspan> Geoarchaeota</text>
<text x="320.6" y="366.1" font-size="6.0" textLength="64.4" lengthAdjust="spacingAndGlyphs"><tspan class="i">Ca.</tspan> Verstraetearchaeota</text>
<text x="344.5" y="371.6" font-size="6.0" textLength="44.5" lengthAdjust="spacingAndGlyphs"><tspan class="i">Ca.</tspan> Korarchaeota</text>
<line x1="358.9" y1="182.4" x2="378.4" y2="182.4" stroke="#222" stroke-width="1"/>
<rect x="152.5" y="310.3" width="80.2" height="52.3" fill="#fff"/>
<text x="156.0" y="318.0" font-size="6.4" textLength="73.3" lengthAdjust="spacingAndGlyphs">16S–23S rRNA gene tree</text>
<text x="160.5" y="331.4" font-size="6.4" textLength="23.8" lengthAdjust="spacingAndGlyphs">Ultrafast</text>
<text x="160.5" y="337.9" font-size="6.4" textLength="26.6" lengthAdjust="spacingAndGlyphs">bootstrap</text>
<text x="202.0" y="331.4" font-size="6.5" textLength="27.3" lengthAdjust="spacingAndGlyphs">SH-aLRT</text>
<path d="M192.8,324.8 A5.9,5.9 0 0 0 192.8,336.6 Z M194.6,324.8 A5.9,5.9 0 0 1 194.6,336.6 Z" fill="#fff" stroke="#333" stroke-width=".7"/>
<circle cx="184.3" cy="347.6" r="3.1" fill="#000"/>
<circle cx="184.3" cy="357.2" r="2.9" fill="#bdbdbd" stroke="#8a8a8a" stroke-width=".5"/>
<text x="190.6" y="349.7" font-size="6.4" textLength="16.9" lengthAdjust="spacingAndGlyphs" style="fill:#555;stroke:#555;stroke-width:.05">≥99%</text>
<text x="190.6" y="359.2" font-size="6.4" textLength="16.9" lengthAdjust="spacingAndGlyphs" style="fill:#555;stroke:#555;stroke-width:.05">≥95%</text>
<g class="F2">
<path class="f2a" d="M233.5,472.9 C230.4,471.6 222.2,467.4 215.0,465.0 C207.8,462.6 198.9,460.0 190.0,458.5 C181.1,457.0 170.8,455.9 161.3,455.8 C151.8,455.7 141.6,456.4 133.0,458.0 C124.4,459.6 116.0,462.4 109.7,465.7 C103.4,469.0 98.9,472.9 95.0,478.0 C91.1,483.1 88.4,489.8 86.5,496.0 C84.6,502.2 83.8,509.3 83.6,515.3 C83.3,521.3 84.0,527.0 85.0,532.0 C86.0,537.0 87.6,540.6 89.8,545.0 C92.0,549.4 94.7,554.2 98.0,558.5 C101.3,562.8 105.4,566.9 109.7,570.9 C114.0,574.9 118.7,578.9 124.0,582.5 C129.3,586.1 135.7,589.6 141.4,592.7 C147.1,595.8 152.5,598.5 158.0,601.0 C163.5,603.5 171.8,606.8 174.5,608.0"/>
<path class="f2a" d="M276.9,463.4 C278.1,462.7 280.5,460.2 284.0,459.0 C287.5,457.8 292.7,456.6 298.0,456.3 C303.3,456.1 309.9,456.8 316.0,457.5 C322.1,458.2 328.0,459.1 334.5,460.6 C341.0,462.2 348.6,464.3 355.0,466.8 C361.4,469.3 368.4,473.0 373.1,475.5 C377.8,478.0 380.6,479.9 383.0,482.0 C385.4,484.1 386.8,486.1 387.8,488.0 C388.9,489.9 389.1,492.8 389.3,493.7"/>
<path class="f2a" d="M366.7,503.0 C369.4,502.9 377.4,502.4 383.0,502.2 C388.6,502.0 394.2,501.8 400.0,502.0 C405.8,502.2 412.2,502.7 418.0,503.5 C423.8,504.3 428.9,505.3 434.7,506.6 C440.5,507.9 447.2,509.6 453.0,511.5 C458.8,513.4 464.7,515.8 469.4,518.2 C474.1,520.6 477.9,523.5 481.0,526.0 C484.1,528.5 486.4,530.8 488.0,533.5 C489.6,536.2 490.6,539.9 490.7,542.5 C490.8,545.1 489.6,547.1 488.8,549.0 C488.0,550.9 487.7,551.5 485.6,554.0 C483.5,556.5 479.9,560.7 476.0,564.0 C472.1,567.3 467.0,570.9 462.5,573.7 C458.0,576.5 453.6,578.7 449.0,580.8 C444.4,582.9 439.9,584.8 434.7,586.5 C429.5,588.2 423.8,589.9 418.0,591.2 C412.2,592.6 405.2,593.7 400.0,594.6 C394.8,595.5 391.3,596.0 387.0,596.5 C382.7,597.0 376.3,597.4 374.2,597.6"/>
<path class="f2a" d="M436.9,590.6 C439.4,590.9 446.9,591.5 452.0,592.5 C457.1,593.5 463.0,595.0 467.3,596.4 C471.6,597.8 474.9,599.3 478.0,601.0 C481.1,602.7 483.4,604.2 485.8,606.5 C488.2,608.8 490.8,611.4 492.5,614.5 C494.2,617.6 495.7,621.9 496.2,625.0 C496.7,628.1 496.4,630.4 495.5,633.0 C494.6,635.6 493.2,638.2 491.1,640.8 C489.0,643.3 486.1,646.1 483.0,648.3 C479.9,650.5 476.1,652.6 472.6,654.1 C469.1,655.6 465.5,656.5 462.0,657.2 C458.5,658.0 455.6,658.3 451.4,658.6 C447.2,658.9 439.3,658.8 436.9,658.8"/>
<path class="f2a" d="M417.0,664.3 C417.6,664.9 419.6,666.5 420.6,668.0 C421.6,669.5 422.6,671.5 422.9,673.5 C423.2,675.5 422.9,678.0 422.4,680.0 C421.8,682.0 420.8,684.0 419.6,685.6 C418.5,687.2 417.0,688.7 415.5,689.8 C414.0,690.9 412.3,691.8 410.4,692.4 C408.5,693.0 406.1,693.4 404.0,693.5 C401.9,693.6 398.7,693.1 397.6,693.0"/>
<path class="f2d" d="M122.6,485.6 C128.9,485.4 136.6,487.1 142.5,489.0 C148.4,490.9 154.0,493.8 158.3,496.9 C162.6,500.0 166.1,504.2 168.3,507.8 C170.5,511.4 171.3,515.4 171.6,518.7 C171.9,522.0 171.8,523.8 170.2,527.6 C168.6,531.4 165.6,538.3 162.3,541.5 C159.0,544.7 155.7,545.4 150.4,546.8 C145.1,548.2 137.2,549.8 130.6,549.8 C124.0,549.8 116.3,548.5 110.7,546.5 C105.1,544.5 100.4,541.0 96.8,537.5 C93.2,534.0 90.5,529.6 88.9,525.6 C87.3,521.6 86.6,518.0 87.3,513.7 C88.0,509.4 90.0,503.8 92.9,499.8 C95.8,495.9 99.8,492.4 104.8,490.0 C109.8,487.6 116.3,485.8 122.6,485.6 Z"/>
<path class="f2d" d="M172.8,509.5 C172.4,507.3 173.3,505.2 175.5,503.5 C177.7,501.8 181.4,500.2 186.0,499.2 C190.6,498.2 196.5,497.7 203.0,497.3 C209.5,496.9 218.3,496.8 225.0,496.9 C231.7,497.0 238.0,497.2 243.0,497.8 C248.0,498.4 252.3,499.3 255.0,500.7 C257.7,502.1 258.8,504.1 259.1,506.0 C259.4,507.9 258.9,510.2 257.0,512.0 C255.2,513.8 252.2,515.3 248.0,516.5 C243.8,517.7 238.0,518.7 232.0,519.4 C226.0,520.1 218.7,520.8 212.0,520.9 C205.3,521.0 197.7,520.7 192.0,520.0 C186.3,519.3 181.2,518.2 178.0,516.5 C174.8,514.8 173.2,511.7 172.8,509.5 Z"/>
<ellipse class="f2d" cx="187.2" cy="527.8" rx="13.6" ry="5.5"/>
<path class="f2d" d="M218.2,545.0 C218.2,543.7 218.7,542.1 221.0,541.0 C223.3,539.9 227.2,539.0 232.0,538.4 C236.8,537.8 243.7,537.5 250.0,537.5 C256.3,537.5 263.8,537.6 270.0,538.2 C276.2,538.8 282.9,539.9 287.0,541.0 C291.1,542.1 293.2,543.6 294.5,545.0 C295.8,546.4 295.8,548.2 294.5,549.5 C293.2,550.8 291.1,552.0 287.0,552.8 C282.9,553.6 276.2,554.0 270.0,554.3 C263.8,554.6 256.3,554.7 250.0,554.4 C243.7,554.1 236.8,553.4 232.0,552.5 C227.2,551.6 223.3,550.2 221.0,549.0 C218.7,547.8 218.2,546.3 218.2,545.0 Z"/>
<text x="142.1" y="450.9" font-size="7.8" class="s" textLength="28.5" lengthAdjust="spacingAndGlyphs">Beta AOB</text>
<text x="328.4" y="453.3" font-size="7.8" class="s" textLength="37.9" lengthAdjust="spacingAndGlyphs">Gamma AOB</text>
<text x="411.6" y="498.0" font-size="7.8" class="s" textLength="39.8" lengthAdjust="spacingAndGlyphs">Gamma MOB</text>
<text x="463.2" y="591.0" font-size="7.8" class="s" textLength="33.1" lengthAdjust="spacingAndGlyphs">Alpha MOB</text>
<text x="421.8" y="687.1" font-size="7.6" textLength="62.7" lengthAdjust="spacingAndGlyphs"><tspan class="s">Unknown </tspan><tspan class="si">pmoA/amoA</tspan></text>
<text x="102.4" y="482.7" font-size="7.2" textLength="87.2" lengthAdjust="spacingAndGlyphs"><tspan class="si">N. europaea/Nc. mobilis</tspan><tspan class="s"> cluster</tspan></text>
<text x="194.6" y="491.9" font-size="7.2" textLength="47.2" lengthAdjust="spacingAndGlyphs"><tspan class="si">N. marina</tspan><tspan class="s"> cluster</tspan></text>
<line class="f2" x1="140.5" y1="501.8" x2="154.6" y2="533.2"/>
<line class="f2" x1="154.6" y1="533.2" x2="158.6" y2="539.6"/>
<line class="f2" x1="158.7" y1="520.7" x2="158.7" y2="538.0"/>
<line class="f2" x1="143.5" y1="527.2" x2="154.6" y2="532.8"/>
<line class="f2" x1="149.6" y1="534.2" x2="154.2" y2="534.0"/>
<line class="f2" x1="150.0" y1="541.0" x2="157.2" y2="540.4"/>
<line class="f2" x1="158.6" y1="539.6" x2="160.6" y2="543.2"/>
<line class="f2" x1="160.6" y1="543.2" x2="168.3" y2="555.0"/>
<line class="f2" x1="168.3" y1="555.0" x2="144.3" y2="553.6"/>
<line class="f2" x1="168.3" y1="555.0" x2="147.6" y2="559.0"/>
<line class="f2" x1="168.3" y1="555.0" x2="165.0" y2="570.6"/>
<line class="f2" x1="168.3" y1="555.0" x2="166.3" y2="575.8"/>
<line class="f2" x1="168.3" y1="555.0" x2="190.6" y2="563.6"/>
<line class="f2" x1="190.6" y1="563.6" x2="220.6" y2="573.4"/>
<line class="f2" x1="225.6" y1="575.6" x2="252.1" y2="585.1"/>
<line class="f2" x1="221.2" y1="576.6" x2="223.4" y2="572.6"/>
<line class="f2" x1="223.0" y1="577.2" x2="225.2" y2="573.2"/>
<path class="f2" d="M190.6,563.6 L200.5,547.1 L204.6,533.0 L205.5,524.8 L206.3,519.8"/>
<line class="f2" x1="206.3" y1="519.8" x2="205.5" y2="510.7"/>
<line class="f2" x1="206.3" y1="519.8" x2="201.4" y2="513.5"/>
<line class="f2" x1="206.3" y1="519.8" x2="211.2" y2="514.6"/>
<line class="f2" x1="205.5" y1="524.8" x2="217.0" y2="523.1"/>
<line class="f2" x1="205.5" y1="524.8" x2="216.2" y2="524.9"/>
<line class="f2" x1="204.6" y1="533.0" x2="213.9" y2="532.2"/>
<line class="f2" x1="184.8" y1="534.7" x2="199.7" y2="543.8"/>
<line class="f2" x1="199.7" y1="543.8" x2="200.5" y2="547.1"/>
<line class="f2" x1="200.5" y1="547.1" x2="217.9" y2="544.6"/>
<line class="f2" x1="217.9" y1="544.6" x2="246.0" y2="543.3"/>
<path class="f2" d="M217.9,544.6 L227.8,547.6 L239.3,545.4"/>
<text x="153.4" y="534.4" font-size="3.9" class="s" text-anchor="middle" style="fill:#000;stroke-width:.06">43</text>
<text x="157.6" y="543.2" font-size="3.9" class="s" text-anchor="middle" style="fill:#000;stroke-width:.06">100</text>
<text x="162.0" y="546.6" font-size="3.9" class="s" text-anchor="middle" style="fill:#000;stroke-width:.06">72</text>
<text x="172.4" y="561.6" font-size="3.9" class="s" text-anchor="middle" style="fill:#000;stroke-width:.06">91</text>
<text x="193.4" y="566.0" font-size="3.9" class="s" text-anchor="middle" style="fill:#000;stroke-width:.06">100</text>
<text x="194.8" y="550.2" font-size="3.9" class="s" text-anchor="middle" style="fill:#000;stroke-width:.06">59</text>
<text x="212.5" y="549.4" font-size="3.9" class="s" text-anchor="middle" style="fill:#000;stroke-width:.06">81</text>
<text x="201.0" y="521.0" font-size="3.9" class="s" text-anchor="middle" style="fill:#000;stroke-width:.06">69</text>
<text x="204.0" y="526.4" font-size="3.9" class="s" text-anchor="middle" style="fill:#000;stroke-width:.06">98</text>
<text x="200.6" y="535.3" font-size="3.9" class="s" text-anchor="middle" style="fill:#000;stroke-width:.06">55</text>
<text x="123.6" y="500.2" font-size="5.5" class="bi" textLength="30.8" lengthAdjust="spacingAndGlyphs">Nc. mobilis'</text>
<text x="157.3" y="513.3" font-size="5.5" class="i" textLength="5.2" lengthAdjust="spacingAndGlyphs">N.</text>
<text x="149.4" y="518.7" font-size="5.5" class="i" textLength="20.8" lengthAdjust="spacingAndGlyphs">eutropha</text>
<text x="111.7" y="527.6" font-size="5.5" class="bi" textLength="31.8" lengthAdjust="spacingAndGlyphs">N. halophila</text>
<text x="118.7" y="535.0" font-size="5.5" class="i" textLength="30.7" lengthAdjust="spacingAndGlyphs">N. europaea</text>
<text x="118.3" y="542.1" font-size="5.5" class="bi" textLength="31.7" lengthAdjust="spacingAndGlyphs">N. europaea</text>
<text x="125.6" y="547.2" font-size="5.5" class="b2" textLength="17.9" lengthAdjust="spacingAndGlyphs">Nm103</text>
<text x="107.7" y="556.4" font-size="5.5" class="bi" textLength="35.8" lengthAdjust="spacingAndGlyphs">N. communis</text>
<text x="109.7" y="561.4" font-size="5.5" class="bi" textLength="36.7" lengthAdjust="spacingAndGlyphs">Nitrosomonas</text>
<text x="121.0" y="566.4" font-size="5.5" class="b2" textLength="14.5" lengthAdjust="spacingAndGlyphs">Nm41</text>
<text x="138.5" y="571.8" font-size="5.5" class="bi" textLength="25.1" lengthAdjust="spacingAndGlyphs">N. nitrosa</text>
<text x="159.1" y="582.9" font-size="5.5" textLength="54.8" lengthAdjust="spacingAndGlyphs"><tspan class="bi">Nitrosomonas</tspan><tspan class="b2"> Nm33</tspan></text>
<text x="197.6" y="506.8" font-size="5.5" textLength="54.0" lengthAdjust="spacingAndGlyphs"><tspan class="bi">Nitrosomonas</tspan><tspan class="b2"> Nm51</tspan></text>
<text x="176.0" y="513.6" font-size="5.5" class="bi" textLength="24.8" lengthAdjust="spacingAndGlyphs">N. marina</text>
<text x="213.2" y="514.8" font-size="5.5" class="bi" textLength="29.8" lengthAdjust="spacingAndGlyphs">N. aestuarii</text>
<text x="219.5" y="525.5" font-size="5.5" class="bi" textLength="21.5" lengthAdjust="spacingAndGlyphs">N. ureae</text>
<text x="176.0" y="530.9" font-size="5.5" class="bi" textLength="21.1" lengthAdjust="spacingAndGlyphs">N. cryot.</text>
<text x="216.2" y="531.7" font-size="5.5" class="bi" textLength="37.6" lengthAdjust="spacingAndGlyphs">N. oligotropha</text>
<text x="239.8" y="550.3" font-size="5.5" textLength="47.8" lengthAdjust="spacingAndGlyphs"><tspan class="i">Nitrosospira</tspan> cluster</text>
<line x1="133.2" y1="632.1" x2="169.7" y2="632.1" stroke="#222" stroke-width=".8"/>
<text x="145.1" y="630.0" font-size="5.6" textLength="11.4" lengthAdjust="spacingAndGlyphs">0.10</text>
<line class="f2" x1="252.1" y1="585.1" x2="310.8" y2="571.4"/>
<line class="f2" x1="310.8" y1="571.4" x2="317.8" y2="565.4"/>
<line class="f2" x1="252.1" y1="585.1" x2="300.6" y2="619.6"/>
<line class="f2" x1="300.6" y1="619.6" x2="387.2" y2="666.7"/>
<line class="f2" x1="300.6" y1="619.6" x2="380.3" y2="679.2"/>
<line class="f2" x1="310.8" y1="571.4" x2="348.6" y2="598.2"/>
<line class="f2" x1="348.6" y1="598.2" x2="408.4" y2="614.6"/>
<line class="f2" x1="408.4" y1="614.6" x2="417.0" y2="619.7"/>
<line class="f2" x1="417.0" y1="619.7" x2="422.4" y2="621.9"/>
<line class="f2" x1="348.6" y1="598.2" x2="403.6" y2="644.0"/>
<line class="f2" x1="408.4" y1="614.6" x2="427.4" y2="602.6"/>
<line class="f2" x1="417.0" y1="619.7" x2="421.8" y2="617.9"/>
<line class="f2" x1="417.0" y1="619.7" x2="419.9" y2="623.6"/>
<path class="f2" d="M280.3,477.6 L300.9,514.8 L317.8,565.4"/>
<line class="f2" x1="281.6" y1="479.4" x2="286.1" y2="478.2"/>
<line class="f2" x1="301.3" y1="498.0" x2="301.3" y2="514.8"/>
<line class="f2" x1="317.8" y1="565.4" x2="325.3" y2="552.5"/>
<line class="f2" x1="321.1" y1="514.4" x2="325.0" y2="550.8"/>
<path class="f2" d="M325.3,552.5 L336.6,538.7 L337.6,533.7 L339.6,525.6 L340.4,520.8"/>
<line class="f2" x1="336.6" y1="538.7" x2="353.6" y2="537.7"/>
<line class="f2" x1="339.6" y1="525.6" x2="343.2" y2="527.6"/>
<line class="f2" x1="339.6" y1="525.6" x2="342.4" y2="523.6"/>
<line class="f2" x1="323.6" y1="554.6" x2="358.5" y2="559.5"/>
<line class="f2" x1="358.5" y1="559.5" x2="376.3" y2="548.6"/>
<line class="f2" x1="358.5" y1="559.5" x2="388.2" y2="554.1"/>
<line class="f2" x1="358.5" y1="559.5" x2="375.3" y2="564.8"/>
<line class="f2" x1="375.3" y1="564.8" x2="383.8" y2="565.8"/>
<line class="f2" x1="375.3" y1="564.8" x2="381.6" y2="569.8"/>
<line class="f2" x1="358.5" y1="559.5" x2="372.0" y2="580.6"/>
<text x="247.4" y="582.0" font-size="3.9" class="s" text-anchor="middle" style="fill:#000;stroke-width:.06">100</text>
<text x="307.6" y="571.2" font-size="3.9" class="s" text-anchor="middle" style="fill:#000;stroke-width:.06">96</text>
<text x="320.2" y="569.6" font-size="3.9" class="s" text-anchor="middle" style="fill:#000;stroke-width:.06">57</text>
<text x="325.0" y="562.8" font-size="3.9" class="s" text-anchor="middle" style="fill:#000;stroke-width:.06">70</text>
<text x="321.4" y="552.4" font-size="3.9" class="s" text-anchor="middle" style="fill:#000;stroke-width:.06">40</text>
<text x="338.4" y="543.4" font-size="3.9" class="s" text-anchor="middle" style="fill:#000;stroke-width:.06">91</text>
<text x="335.4" y="534.9" font-size="3.9" class="s" text-anchor="middle" style="fill:#000;stroke-width:.06">65</text>
<text x="345.0" y="530.8" font-size="3.9" class="s" text-anchor="middle" style="fill:#000;stroke-width:.06">94</text>
<text x="289.3" y="489.5" font-size="3.9" class="s" text-anchor="middle" style="fill:#000;stroke-width:.06">100</text>
<text x="302.9" y="519.6" font-size="3.9" class="s" text-anchor="middle" style="fill:#000;stroke-width:.06">98</text>
<text x="355.2" y="558.4" font-size="3.9" class="s" text-anchor="middle" style="fill:#000;stroke-width:.06">96</text>
<text x="364.0" y="560.2" font-size="3.9" class="s" text-anchor="middle" style="fill:#000;stroke-width:.06">68</text>
<text x="359.4" y="564.7" font-size="3.9" class="s" text-anchor="middle" style="fill:#000;stroke-width:.06">32</text>
<text x="377.4" y="568.6" font-size="3.9" class="s" text-anchor="middle" style="fill:#000;stroke-width:.06">97</text>
<text x="348.2" y="597.0" font-size="3.9" class="s" text-anchor="middle" style="fill:#000;stroke-width:.06">86</text>
<text x="299.4" y="617.8" font-size="3.9" class="s" text-anchor="middle" style="fill:#000;stroke-width:.06">90</text>
<text x="403.8" y="614.0" font-size="3.9" class="s" text-anchor="middle" style="fill:#000;stroke-width:.06">100</text>
<text x="413.9" y="619.4" font-size="3.9" class="s" text-anchor="middle" style="fill:#000;stroke-width:.06">78</text>
<text x="277.5" y="473.3" font-size="5.8" textLength="70.3" lengthAdjust="spacingAndGlyphs"><tspan class="i">Nitrosococcus oceani</tspan> C-107</text>
<text x="291.5" y="481.3" font-size="5.8" textLength="61.9" lengthAdjust="spacingAndGlyphs"><tspan class="i">Nitrosococcus sp.</tspan> C-113</text>
<text x="293.2" y="495.4" font-size="5.8" textLength="81.7" lengthAdjust="spacingAndGlyphs"><tspan class="bi">Nitrosococcus halophilus</tspan><tspan class="b2"> Nc4</tspan></text>
<text x="307.6" y="512.0" font-size="5.8" textLength="23.6" lengthAdjust="spacingAndGlyphs">strain HB</text>
<text x="340.9" y="514.1" font-size="5.7" class="i" textLength="71.8" lengthAdjust="spacingAndGlyphs">Methylocaldum scegediense</text>
<text x="352.7" y="522.1" font-size="5.7" textLength="71.6" lengthAdjust="spacingAndGlyphs"><tspan class="i">Methylocaldum tepidum</tspan> LK6</text>
<text x="352.0" y="529.8" font-size="5.7" class="i" textLength="57.7" lengthAdjust="spacingAndGlyphs">Methylocaldum gracilis</text>
<text x="356.0" y="537.8" font-size="5.7" class="i" textLength="79.2" lengthAdjust="spacingAndGlyphs">Methylococcus capsulatus Bath</text>
<text x="376.7" y="548.6" font-size="5.7" class="i" textLength="73.8" lengthAdjust="spacingAndGlyphs">Methylomicrobium pelagicum</text>
<text x="390.2" y="555.5" font-size="5.7" class="i" textLength="64.9" lengthAdjust="spacingAndGlyphs">Methylomonas methanica</text>
<text x="386.2" y="567.4" font-size="5.7" textLength="58.2" lengthAdjust="spacingAndGlyphs"><tspan class="i">Methylobacter sp.</tspan> LW 1</text>
<text x="385.2" y="575.0" font-size="5.7" textLength="75.4" lengthAdjust="spacingAndGlyphs"><tspan class="i">Methylomicrobium album</tspan> BG8</text>
<text x="373.3" y="583.3" font-size="5.7" textLength="61.4" lengthAdjust="spacingAndGlyphs"><tspan class="i">Methylobacter sp.</tspan> BB5.1</text>
<text x="428.9" y="599.8" font-size="5.7" class="i" textLength="33.1" lengthAdjust="spacingAndGlyphs">Methylosinus</text>
<text x="427.6" y="607.2" font-size="5.7" textLength="50.3" lengthAdjust="spacingAndGlyphs"><tspan class="i">trichosporium</tspan> OB3B</text>
<text x="423.7" y="619.2" font-size="5.7" textLength="69.5" lengthAdjust="spacingAndGlyphs"><tspan class="i">Methylocystis parvus</tspan> OBBP</text>
<text x="435.2" y="625.0" font-size="5.7" textLength="25.0" lengthAdjust="spacingAndGlyphs">clone LR1</text>
<text x="417.0" y="630.8" font-size="5.7" textLength="49.0" lengthAdjust="spacingAndGlyphs"><tspan class="i">Methylocystis sp.</tspan> M</text>
<text x="405.1" y="644.8" font-size="5.7" textLength="29.1" lengthAdjust="spacingAndGlyphs">clone RA14</text>
<text x="405.1" y="651.4" font-size="5.7" textLength="26.5" lengthAdjust="spacingAndGlyphs">clone MR2</text>
<text x="389.3" y="669.4" font-size="5.7" textLength="26.4" lengthAdjust="spacingAndGlyphs">clone MR1</text>
<text x="383.4" y="682.6" font-size="5.7" textLength="29.0" lengthAdjust="spacingAndGlyphs">clone RA21</text>
</g>
</g>
<text x="80.4" y="398.8" font-size="11.6" class="ck" textLength="22.4" lengthAdjust="spacingAndGlyphs">그림</text>
<text x="109.5" y="398.8" font-size="13" class="cp" textLength="9.2" lengthAdjust="spacingAndGlyphs">4.</text>
<text x="126.5" y="398.8" font-size="13" class="cp" textLength="43.8" lengthAdjust="spacingAndGlyphs">Archaea</text>
<text x="178.1" y="398.8" font-size="13" class="cp" textLength="39.2" lengthAdjust="spacingAndGlyphs">domain</text>
<text x="217.2" y="398.8" font-size="11.6" class="ck">에</text>
<text x="235.6" y="398.8" font-size="11.6" class="ck" textLength="35.2" lengthAdjust="spacingAndGlyphs">속하는</text>
<text x="280.4" y="398.8" font-size="11.6" class="ck" textLength="34.4" lengthAdjust="spacingAndGlyphs">다양한</text>
<text x="322.4" y="398.8" font-size="13" class="cp" textLength="108.8" lengthAdjust="spacingAndGlyphs">Ammonia-oxidizing</text>
<text x="438.8" y="398.8" font-size="13" class="cp" textLength="41.7" lengthAdjust="spacingAndGlyphs">archaea</text>
<text x="487.5" y="398.8" font-size="13" class="cp" textLength="36.7" lengthAdjust="spacingAndGlyphs">clades.</text>
<text x="80.4" y="721.4" font-size="11.6" class="ck" textLength="22.4" lengthAdjust="spacingAndGlyphs">그림</text>
<text x="109.5" y="721.4" font-size="13" class="cp" textLength="9.2" lengthAdjust="spacingAndGlyphs">5.</text>
<text x="125.2" y="721.4" font-size="13" class="cp" textLength="45.0" lengthAdjust="spacingAndGlyphs">Bacteria</text>
<text x="178.1" y="721.4" font-size="13" class="cp" textLength="39.2" lengthAdjust="spacingAndGlyphs">domain</text>
<text x="217.2" y="721.4" font-size="11.6" class="ck">에</text>
<text x="235.6" y="721.4" font-size="11.6" class="ck" textLength="35.2" lengthAdjust="spacingAndGlyphs">속하는</text>
<text x="280.4" y="721.4" font-size="11.6" class="ck" textLength="34.4" lengthAdjust="spacingAndGlyphs">다양한</text>
<text x="322.4" y="721.4" font-size="13" class="cp" textLength="108.8" lengthAdjust="spacingAndGlyphs">Ammonia-oxidizing</text>
<text x="437.9" y="721.4" font-size="13" class="cp" textLength="42.6" lengthAdjust="spacingAndGlyphs">bacteria</text>
<text x="487.5" y="721.4" font-size="13" class="cp" textLength="36.7" lengthAdjust="spacingAndGlyphs">clades.</text>
<rect x="287.1" y="782.1" width="5.4" height="1" fill="#222"/>
<rect x="311.6" y="782.1" width="5.5" height="1" fill="#222"/>
<text x="298.6" y="786.8" font-size="11">4</text>
</svg>
</body></html>
